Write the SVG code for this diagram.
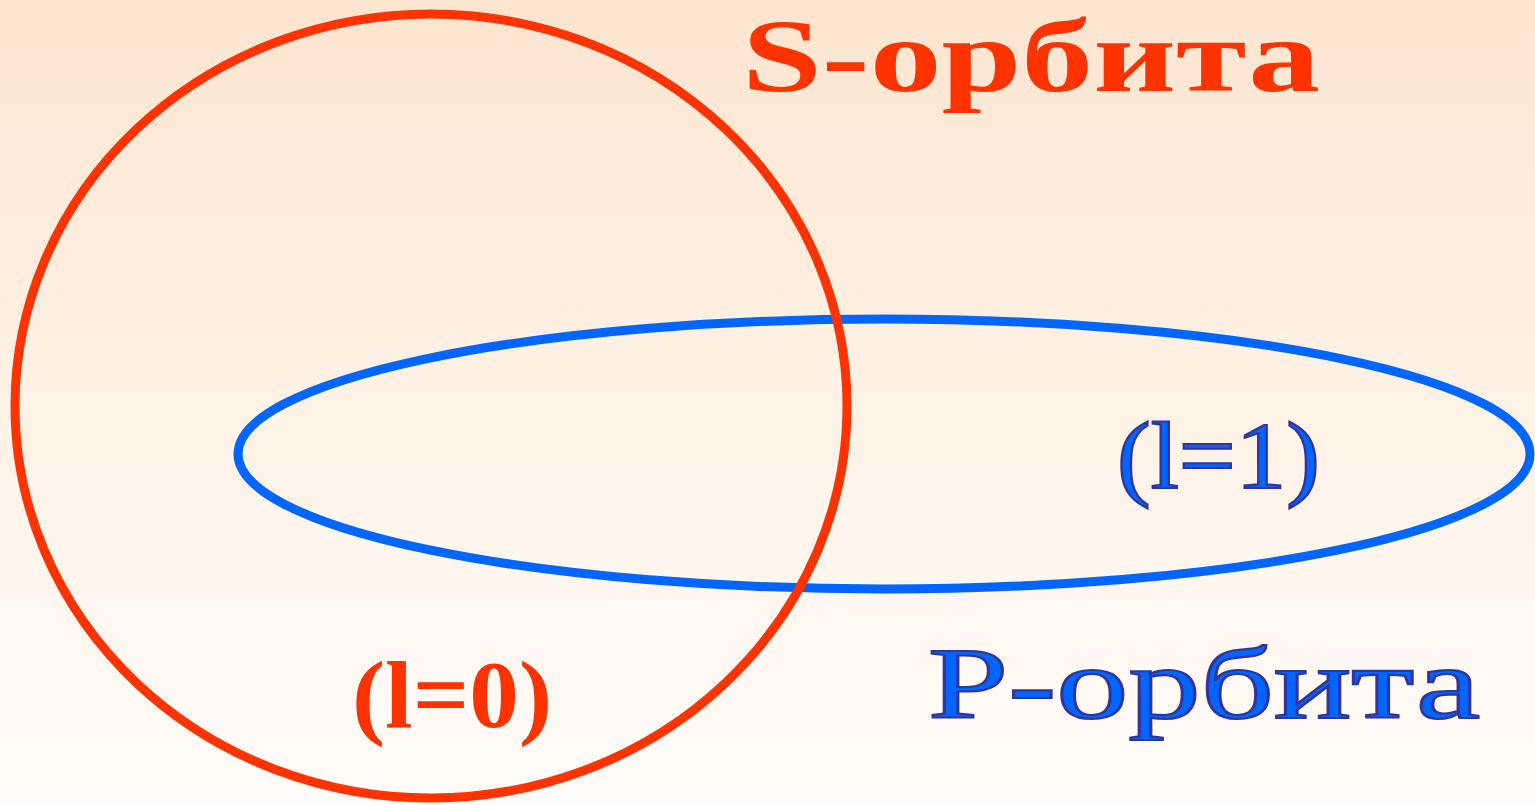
<svg xmlns="http://www.w3.org/2000/svg" width="1535" height="805" viewBox="0 0 1535 805">
<defs>
<linearGradient id="bg" x1="0" y1="0" x2="0" y2="1">
<stop offset="0" stop-color="#FDE5CF"/>
<stop offset="0.5" stop-color="#FFF2E6"/>
<stop offset="1" stop-color="#FFFCF9"/>
</linearGradient>
<style>
.red{fill:#FF3300;font-family:"Liberation Serif","Times New Roman",serif;font-weight:bold}
.blue{fill:#0066FF;stroke:#333399;stroke-width:2.2;font-family:"Liberation Serif","Times New Roman",serif}
.orb{fill:none}
</style>
</defs>
<rect x="0" y="0" width="1535" height="805" fill="url(#bg)"/>
<g id="connectors"/>
<g id="p-orbit">
<ellipse class="orb" cx="884" cy="454" rx="646" ry="135" stroke="#0066FF" stroke-width="9"/>
</g>
<g id="s-orbit">
<ellipse class="orb" cx="431" cy="406" rx="416" ry="392" stroke="#FF3300" stroke-width="9"/>
</g>
<g id="s-label">
<text class="red" x="742" y="91" font-size="103" textLength="578" lengthAdjust="spacingAndGlyphs">S-орбита</text>
</g>
<g id="s-quantum">
<text class="red" x="352" y="727" font-size="96" textLength="200" lengthAdjust="spacingAndGlyphs">(l=0)</text>
</g>
<g id="p-label">
<text class="blue" x="928" y="718" font-size="102" textLength="552" lengthAdjust="spacingAndGlyphs">P-орбита</text>
</g>
<g id="p-quantum">
<text class="blue" x="1117" y="488" font-size="96" textLength="203" lengthAdjust="spacingAndGlyphs">(l=1)</text>
</g>
</svg>
